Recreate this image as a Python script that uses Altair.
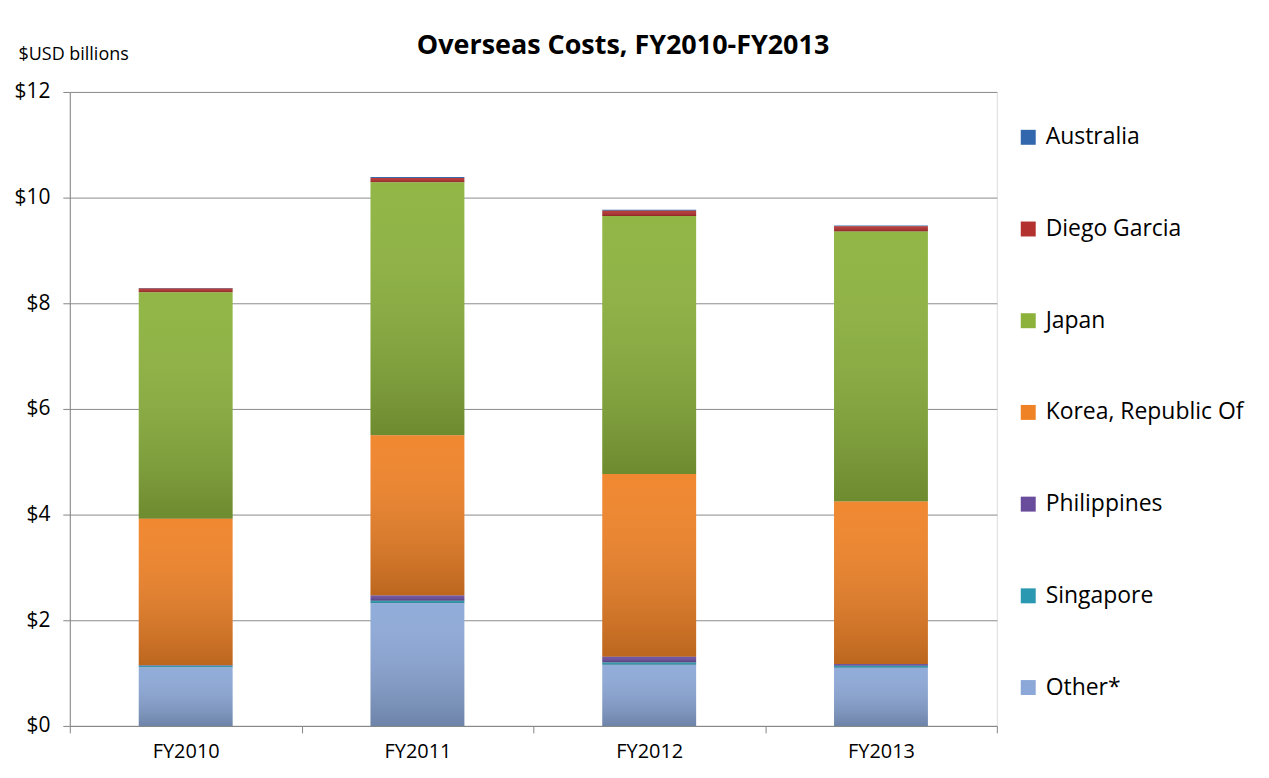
import altair as alt
import pandas as pd

years = ["FY2010", "FY2011", "FY2012", "FY2013"]
series = ["Australia", "Diego Garcia", "Japan", "Korea, Republic Of",
          "Philippines", "Singapore", "Other*"]
colors = ["#3266ad", "#b3312e", "#8cb23c", "#f08226", "#6a4c9c", "#2a98b0", "#8ca8d8"]

australia = [0.01, 0.02, 0.02, 0.01]
diego_garcia = [0.07, 0.08, 0.10, 0.10]
japan = [4.29, 4.79, 4.88, 5.11]
korea = [2.77, 3.03, 3.46, 3.08]
philippines = [0.01, 0.10, 0.11, 0.03]
singapore = [0.03, 0.05, 0.04, 0.04]
other = [1.11, 2.32, 1.16, 1.10]

values = [australia, diego_garcia, japan, korea, philippines, singapore, other]

rows = []
for s_i, (name, vals) in enumerate(zip(series, values)):
    for y, v in zip(years, vals):
        rows.append({"year": y, "series": name, "value": v,
                     "rank": len(series) - 1 - s_i})
df = pd.DataFrame(rows)

FONT = "Open Sans"

x_enc = alt.X("year:N", sort=years, title=None,
              scale=alt.Scale(paddingInner=0, paddingOuter=0),
              axis=alt.Axis(labelAngle=0, labelFontSize=20, labelColor="#000000",
                            labelFont=FONT, tickBand="extent", tickSize=7,
                            tickColor="#868686", domainColor="#868686",
                            labelPadding=9, grid=False))
y_enc = alt.Y("sum(value):Q", stack="zero",
              scale=alt.Scale(domain=[0, 12], nice=False),
              axis=alt.Axis(values=[0, 2, 4, 6, 8, 10, 12],
                            labelExpr="'$' + datum.value",
                            labelFontSize=21, labelFont=FONT, labelColor="#000000",
                            tickSize=7, tickColor="#868686", domainColor="#868686",
                            gridColor="#8c8c8c", labelPadding=13,
                            title="$USD billions", titleAngle=0, titleAlign="left",
                            titleBaseline="alphabetic", titleX=-52, titleY=-33,
                            titleFont=FONT, titleFontSize=18, titleFontWeight="normal",
                            titleColor="#000000"))

base = alt.Chart(df).mark_bar(width=alt.RelativeBandSize(0.405)).encode(
    x=x_enc,
    y=y_enc,
    color=alt.Color("series:N",
                    scale=alt.Scale(domain=series, range=colors),
                    legend=alt.Legend(title=None, orient="none", legendX=950, legendY=34,
                                      symbolType="square", symbolSize=225,
                                      symbolStrokeWidth=0, labelFontSize=23,
                                      labelFont=FONT, labelColor="#000000",
                                      labelLimit=400,
                                      rowPadding=68, labelOffset=6)),
    order=alt.Order("rank:Q", sort="ascending"),
)

shade = alt.Chart(df).mark_bar(
    width=alt.RelativeBandSize(0.405),
    fill=alt.Gradient(gradient="linear", x1=0, x2=0, y1=0, y2=1,
                      stops=[alt.GradientStop(offset=0, color="rgba(255,255,255,0.05)"),
                             alt.GradientStop(offset=1, color="rgba(0,0,0,0.22)")]),
).encode(
    x=alt.X("year:N", sort=years),
    y=alt.Y("sum(value):Q", stack="zero"),
    detail="series:N",
    order=alt.Order("rank:Q", sort="ascending"),
)

chart = alt.layer(base, shade).properties(
    width=930, height=636,
    title=alt.TitleParams("Overseas Costs, FY2010-FY2013", font=FONT, fontSize=27,
                          fontWeight="bold", color="#000000", dx=90, dy=45, offset=30),
    autosize=alt.AutoSizeParams(type="none"),
    padding={"left": 62, "top": 83, "right": 265, "bottom": 40},
).configure_view(
    fill="#f2f2f2", stroke="#868686", strokeWidth=1
).configure(background="#ffffff")

chart.save("out.html", embed_options={"renderer": "svg", "actions": False})
